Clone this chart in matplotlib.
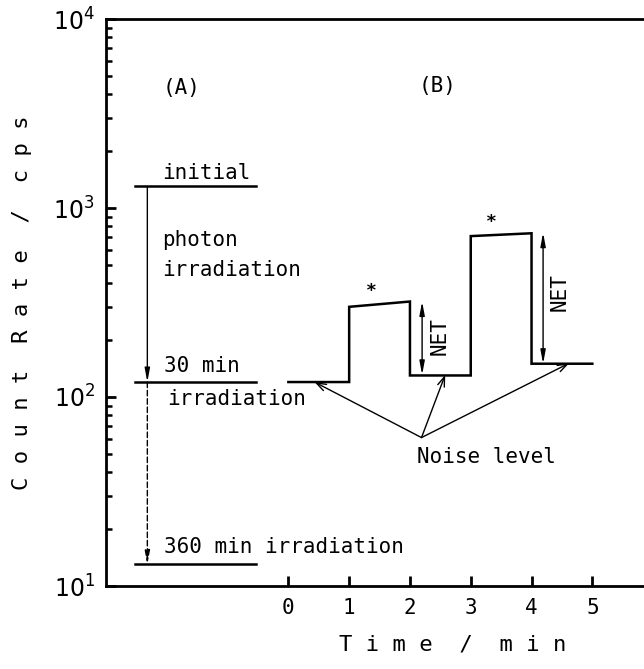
import matplotlib
matplotlib.use("Agg")
import matplotlib.pyplot as plt
from matplotlib.ticker import LogLocator, NullFormatter, FixedLocator

# ---- data ----
# Panel (B): step record of count rate vs time
time_pts = [0, 1, 1, 2, 2, 3, 3, 4, 4, 5]
count_pts = [120, 120, 300, 320, 130, 130, 710, 735, 150, 150]

# Panel (A): count-rate levels after irradiation
level_names = ["initial", "30 min", "360 min"]
level_values = [1300, 120, 13]

x_ticks = [0, 1, 2, 3, 4, 5]
x_tick_labels = ["0", "1", "2", "3", "4", "5"]
y_ticks = [10, 100, 1000, 10000]
y_tick_labels = [r"$10^{1}$", r"$10^{2}$", r"$10^{3}$", r"$10^{4}$"]

# ---- figure ----
W, H = 644, 669
fig = plt.figure(figsize=(W / 100, H / 100), dpi=100)
ax = fig.add_axes([106 / W, 1 - 586 / H, 1 - 106 / W, (586 - 19) / H])

FONT = "DejaVu Sans Mono"
FS = 15
plt.rcParams["mathtext.fontset"] = "dejavusans"

ax.set_yscale("log")
ax.set_ylim(10, 10000)
ax.set_xlim(-3.0, 5.85)

for s in ["left", "top", "bottom"]:
    ax.spines[s].set_linewidth(2.0)
ax.spines["right"].set_visible(False)

ax.xaxis.set_major_locator(FixedLocator(x_ticks))
ax.set_xticklabels(x_tick_labels, fontsize=FS, family=FONT)
ax.set_yticks(y_ticks)
ax.set_yticklabels(y_tick_labels, fontsize=17)
ax.yaxis.set_minor_locator(LogLocator(base=10, subs=range(2, 10)))
ax.yaxis.set_minor_formatter(NullFormatter())
ax.tick_params(axis="both", which="major", direction="in", length=7, width=2.0, pad=8)
ax.tick_params(axis="y", which="minor", direction="in", length=4, width=1.8)
ax.tick_params(axis="x", which="major", pad=9)
ax.tick_params(right=False, top=False)

ax.set_xlabel("T i m e  /  m i n", fontsize=16, family=FONT)
ax.xaxis.label.set_va("center")
ax.xaxis.set_label_coords((453 - 106) / (W - 106), -(645 - 586) / (586 - 19))
ax.set_ylabel("C o u n t  R a t e  /  c p s", fontsize=16, family=FONT)
ax.yaxis.label.set_va("center")
ax.yaxis.set_label_coords(-(106 - 22) / (W - 106), 0.5)

# ---- panel (B) step trace ----
ax.plot(time_pts, count_pts, color="black", lw=1.8, solid_joinstyle="miter")

# ---- panel (A) levels ----
xa0, xa1, xarr = -2.53, -0.53, -2.32
for v in level_values:
    ax.plot([xa0, xa1], [v, v], color="black", lw=1.8)

ax.annotate("", xy=(xarr, level_values[1]), xytext=(xarr, level_values[0]),
            arrowprops=dict(arrowstyle="-|>,head_length=0.8,head_width=0.15",
                            color="black", lw=1.0, shrinkA=0, shrinkB=0))
ax.annotate("", xy=(xarr, level_values[2]), xytext=(xarr, level_values[1]),
            arrowprops=dict(arrowstyle="-|>,head_length=0.8,head_width=0.15",
                            color="black", lw=1.0, ls=(0, (4, 2)), shrinkA=0, shrinkB=0))

tk = dict(fontsize=FS, family=FONT, color="black", va="center", ha="left")
ax.text(-2.07, 4300, "(A)", **tk)
ax.text(2.15, 4400, "(B)", **tk)
ax.text(-2.07, 1530, "initial", **tk)
ax.text(-2.07, 675, "photon", **tk)
ax.text(-2.07, 470, "irradiation", **tk)
ax.text(-2.05, 146, "30 min", **tk)
ax.text(-2.0, 98, "irradiation", **tk)
ax.text(-2.05, 16, "360 min irradiation", **tk)

# asterisks
ax.text(1.37, 364, "*", fontsize=13, family=FONT, ha="center", va="center", fontweight="bold")
ax.text(3.34, 844, "*", fontsize=13, family=FONT, ha="center", va="center", fontweight="bold")

# NET double arrows
net_style = dict(arrowstyle="<|-|>,head_length=0.8,head_width=0.15",
                 color="black", lw=1.0, shrinkA=0, shrinkB=0)
ax.annotate("", xy=(2.2, 131), xytext=(2.2, 320), arrowprops=net_style)
ax.annotate("", xy=(4.19, 150), xytext=(4.19, 740), arrowprops=net_style)
ax.text(2.48, 210, "NET", rotation=90, fontsize=FS, family=FONT, ha="center", va="center")
ax.text(4.46, 360, "NET", rotation=90, fontsize=FS, family=FONT, ha="center", va="center")

# Noise level arrows
src = (2.19, 61)
for tgt in [(0.43, 120), (2.58, 131), (4.62, 151)]:
    ax.annotate("", xy=tgt, xytext=src,
                arrowprops=dict(arrowstyle="->,head_length=0.7,head_width=0.25",
                                color="black", lw=1.0, shrinkA=0, shrinkB=0))
ax.text(2.12, 48, "Noise level", **tk)

fig.savefig("out.png", dpi=100)
